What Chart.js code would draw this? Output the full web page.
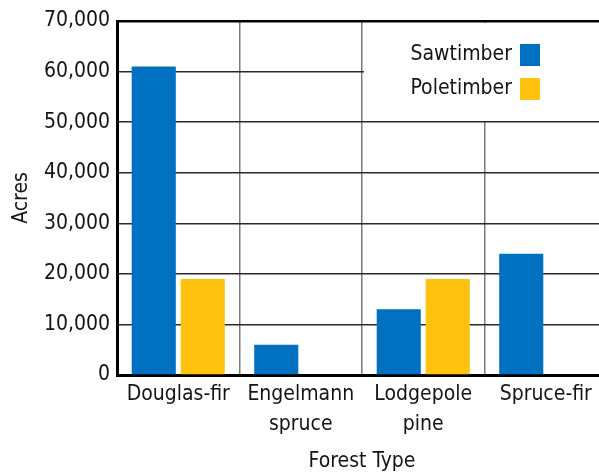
<!DOCTYPE html>
<html>
<head>
<meta charset="utf-8">
<script src="https://cdn.jsdelivr.net/npm/chart.js@4.4.1/dist/chart.umd.min.js"></script>
<style>
  html, body { margin: 0; padding: 0; background: #fff; overflow: hidden; }
  #wrap { width: 608px; height: 472px; }
</style>
</head>
<body>
<div id="wrap"><canvas id="chart" width="608" height="472"></canvas></div>
<script>
// data
const forestTypes = [["Douglas-fir"], ["Engelmann", "spruce"], ["Lodgepole", "pine"], ["Spruce-fir"]];
const sawtimber = [61000, 6000, 13000, 24000];
const poletimber = [19000, 0, 19000, 0];
const yTicks = [0, 10000, 20000, 30000, 40000, 50000, 60000, 70000];

const FONT = "'DejaVu Sans Condensed', 'Liberation Sans', sans-serif";
const INK = "#141414";

// legend drawn in the top right corner of the plot, on a white patch
const boxLegend = {
  id: "boxLegend",
  beforeDatasetsDraw(chart) {
    const ctx = chart.ctx;
    const area = chart.chartArea;
    ctx.save();
    ctx.fillStyle = "#fff";
    ctx.fillRect(364, area.top + 2, chart.width - 364, 98);
    ctx.font = "21px " + FONT;
    ctx.textAlign = "right";
    ctx.textBaseline = "middle";
    chart.data.datasets.forEach((ds, i) => {
      const y = 55 + i * 34;
      ctx.fillStyle = INK;
      ctx.fillText(ds.label, 512, y);
      ctx.fillStyle = ds.backgroundColor;
      ctx.fillRect(520, y - 11, 20, 22);
    });
    ctx.restore();
  }
};

new Chart(document.getElementById("chart"), {
  type: "bar",
  data: {
    labels: forestTypes,
    datasets: [
      { label: "Sawtimber", data: sawtimber, backgroundColor: "#0070c0" },
      { label: "Poletimber", data: poletimber, backgroundColor: "#ffc20e" }
    ]
  },
  options: {
    responsive: false,
    animation: false,
    layout: { padding: { top: 21, right: 1, left: 0, bottom: 0 } },
    datasets: { bar: { categoryPercentage: 0.8, barPercentage: 0.9 } },
    plugins: { legend: { display: false }, tooltip: { enabled: false } },
    scales: {
      x: {
        grid: { color: "#7a7a7a", lineWidth: 1.5, drawTicks: false, offset: true },
        border: { color: "#000", width: 3 },
        ticks: { color: INK, padding: 5, font: { family: FONT, size: 21, lineHeight: 1.4 } },
        title: { display: true, text: "Forest Type", color: INK, padding: { top: 0, bottom: -2 },
                 font: { family: FONT, size: 21 } },
        afterFit(scale) { scale.height = 97; }
      },
      y: {
        min: 0, max: 70000,
        afterBuildTicks(scale) { scale.ticks = yTicks.map(v => ({ value: v })); },
        grid: {
          drawTicks: false,
          color: c => c.tick && c.tick.value === 70000 ? "#000" : "#2a2a2a",
          lineWidth: c => c.tick && c.tick.value === 70000 ? 2.5 : 1.5
        },
        border: { color: "#000", width: 3 },
        ticks: { color: INK, padding: 7, font: { family: FONT, size: 21 },
                 callback: v => v.toLocaleString("en-US") },
        title: { display: true, text: "Acres", color: INK, padding: { top: 9, bottom: 0 },
                 font: { family: FONT, size: 21 } },
        afterFit(scale) { scale.width = 117; }
      }
    }
  },
  plugins: [boxLegend]
});
</script>
</body>
</html>
